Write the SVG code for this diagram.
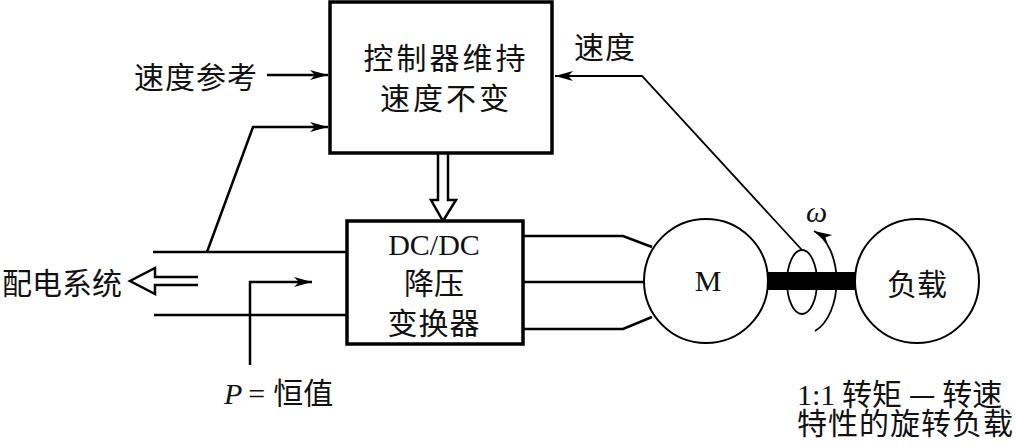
<svg xmlns="http://www.w3.org/2000/svg" width="1016" height="447" viewBox="0 0 1016 447">
<style>
.cjk{font-family:"Noto Sans CJK SC","Noto Sans CJK JP",sans-serif;font-size:30px;fill:#111}
.lat{font-family:"Liberation Serif",serif;font-size:30px;fill:#111}
.box{fill:#fff;stroke:#000;stroke-width:3.5}
.ln{fill:none;stroke:#000;stroke-width:2.5}
.thin{fill:none;stroke:#000;stroke-width:1.8}
.circ{fill:#fff;stroke:#000;stroke-width:2}
</style>
<defs>
<marker id="ah" markerUnits="userSpaceOnUse" markerWidth="20" markerHeight="12" refX="18" refY="5" orient="auto">
<path d="M0,0 L18,5 L0,10 L5,5 Z" fill="#000"/>
</marker>
</defs>
<rect width="1016" height="447" fill="#fff"/>
<g id="connectors">
<line class="ln" x1="267" y1="75" x2="328" y2="75" marker-end="url(#ah)"/>
<polyline class="ln" points="207,252 253,127 328,127" marker-end="url(#ah)"/>
<line class="ln" x1="153" y1="252" x2="348" y2="252"/>
<line class="ln" x1="154" y1="315" x2="348" y2="315"/>
<path class="ln" d="M198,277 L155,277 L155,268 L130,281 L155,294 L155,285 L198,285"/>
<polyline class="ln" points="250,365 250,282 312,282" marker-end="url(#ah)"/>
<path class="ln" d="M438,154 L438,200 L431,200 L443,221 L456,200 L448,200 L448,154"/>
<polyline class="ln" points="523,236 623,236 652,247"/>
<line class="ln" x1="523" y1="282" x2="645" y2="282"/>
<polyline class="ln" points="523,329 623,329 652,317"/>
<polyline class="thin" points="802,250 642,76 555,76" marker-end="url(#ah)"/>
<path class="thin" d="M815,331 A33,53 0 0 0 814,231" marker-end="url(#ah)"/>
</g>
<g id="controller">
<rect class="box" x="330" y="2" width="222" height="151"/>
<text class="cjk" x="446" y="69" text-anchor="middle" font-size="28" letter-spacing="3">控制器维持</text>
<text class="cjk" x="446" y="109" text-anchor="middle" font-size="28" letter-spacing="3">速度不变</text>
</g>
<g id="converter">
<rect class="box" x="347" y="221" width="176" height="123"/>
<text class="lat" x="434" y="255" text-anchor="middle">DC/DC</text>
<text class="cjk" x="434" y="294" text-anchor="middle">降压</text>
<text class="cjk" x="434" y="334" text-anchor="middle" letter-spacing="1">变换器</text>
</g>
<g id="motor">
<circle class="circ" cx="706" cy="281" r="62"/>
<text class="lat" x="708" y="291" text-anchor="middle" font-size="30">M</text>
</g>
<g id="shaft">
<rect x="768" y="272" width="87" height="18" fill="#000"/>
<ellipse cx="802" cy="282" rx="15" ry="32" fill="none" stroke="#000" stroke-width="1.8"/>
<text class="lat" x="806" y="222" font-style="italic" font-size="28">ω</text>
</g>
<g id="load">
<circle class="circ" cx="917" cy="281" r="62"/>
<text class="cjk" x="917" y="295" text-anchor="middle">负载</text>
</g>
<g id="labels">
<text class="cjk" x="258" y="88" text-anchor="end" letter-spacing="1">速度参考</text>
<text class="cjk" x="574" y="58" letter-spacing="1">速度</text>
<text class="cjk" x="2" y="294">配电系统</text>
<text x="224" y="404"><tspan class="lat" font-style="italic">P</tspan><tspan class="lat" dx="6">=</tspan><tspan class="cjk" dx="8">恒值</tspan></text>
<text class="cjk" x="797" y="405"><tspan class="lat" font-size="32">1:1</tspan> 转矩 — 转速</text>
<text class="cjk" x="797" y="434" letter-spacing="1">特性的旋转负载</text>
</g>
</svg>
